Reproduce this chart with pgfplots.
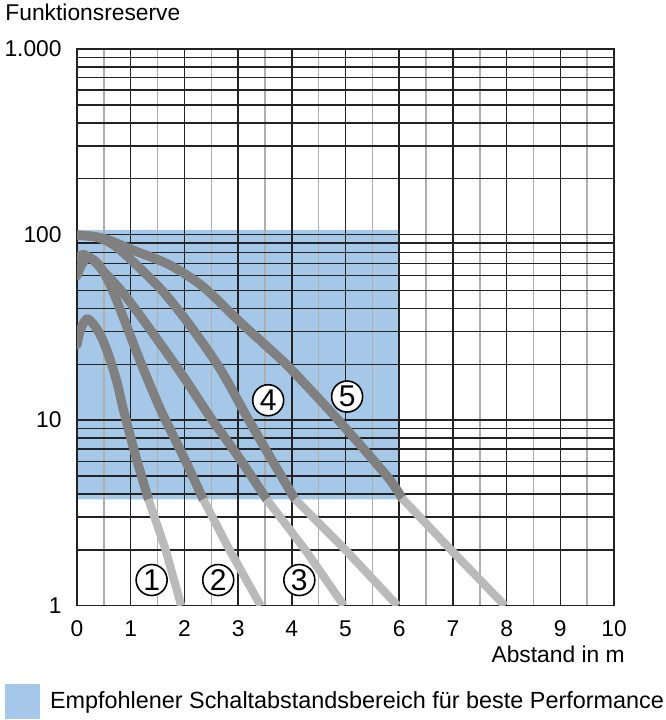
\documentclass[border=0pt]{standalone}
\usepackage{pgfplots}
\pgfplotsset{compat=1.18}
\usepackage{fontspec}
\setmainfont{Liberation Sans}
\definecolor{blueC}{RGB}{166,200,232}
\definecolor{darkC}{RGB}{128,128,128}
\definecolor{lightC}{RGB}{186,186,186}
\definecolor{gridC}{RGB}{35,35,35}
\definecolor{mgridC}{RGB}{175,175,175}
\begin{document}
\begin{tikzpicture}
\begin{axis}[name=ax, set layers, scale only axis, width=268.5pt, height=278.35pt,
 xmin=0, xmax=10, ymin=1, ymax=1000, ymode=log,
 xtick={0,...,10}, xticklabels={0,1,2,3,4,5,6,7,8,9,10},
 ytick={1,10,100,1000}, yticklabels={1,10,100,1.000},
 minor x tick num=1,
 grid=both,
 major grid style={gridC, line width=0.75pt},
 minor grid style={gridC, line width=0.75pt},
 minor x grid style={mgridC, line width=0.75pt},
 axis line style={gridC, line width=0.8pt},
 major tick length=0pt, minor tick length=0pt,
 /pgf/number format/assume math mode=true,
 tick label style={font=\fontsize{11.4}{13}\selectfont},
 xticklabel style={inner sep=0pt, yshift=-7.2pt},
 yticklabel style={inner sep=0pt, xshift=-7.5pt},
 xlabel={Abstand in m}, ylabel={Funktionsreserve},
 every axis x label/.style={at={(axis description cs:1.0205,-0.0724)}, anchor=north east, inner sep=0pt, font=\fontsize{11.4}{13}\selectfont},
 every axis y label/.style={at={(axis description cs:-0.134,1.0808)}, anchor=north west, inner sep=0pt, font=\fontsize{11.4}{13}\selectfont},
 legend style={draw=none, fill=none, inner sep=0pt, outer sep=0pt, at={(axis description cs:-0.134,-0.172)}, anchor=west, font=\fontsize{11.7}{14}\selectfont, nodes={inner sep=0pt}, /tikz/every odd column/.append style={column sep=5pt}},
 legend cell align=left,
]
\addplot[fill=blueC, draw=none, on layer=axis background, area legend,
  legend image code/.code={\fill[blueC] (0pt,-8.75pt) rectangle (17.5pt,8.75pt);}]
  coordinates {(0,3.74) (6,3.74) (6,106) (0,106) (0,3.74)};
\addlegendentry{Empfohlener Schaltabstandsbereich für beste Performance}

% curve 1
\addplot[darkC, line width=4.6pt, smooth, line cap=round, forget plot] coordinates {(0,25.5) (0.07,31) (0.18,35) (0.3,33.1) (0.45,28.2) (0.6,21.9) (0.75,15.8) (0.86,11.5) (1.1,6.3) (1.33,3.75)};
\addplot[lightC, line width=4.1pt, forget plot] coordinates {(1.33,3.75) (1.65,2) (1.94,1)};
% curve 2
\addplot[darkC, line width=4.6pt, smooth, line cap=round, forget plot] coordinates {(0,60) (0.1,70) (0.22,75) (0.4,69) (0.6,55) (0.8,39.8) (1.0,28.2) (1.2,20) (1.4,14.5) (1.6,10.7) (2.0,6.2) (2.35,3.75)};
\addplot[lightC, line width=4.1pt, forget plot] coordinates {(2.35,3.75) (2.8,2.1) (3.42,1)};
% curve 3
\addplot[darkC, line width=4.6pt, smooth, line cap=round, forget plot] coordinates {(0,75) (0.12,78) (0.3,73) (0.5,63) (0.86,48.4) (1.42,29.2) (1.98,17.2) (2.45,10.7) (3.03,6.2) (3.53,3.75)};
\addplot[lightC, line width=4.1pt, forget plot] coordinates {(3.53,3.75) (4.25,2) (4.97,1)};
% curve 4
\addplot[darkC, line width=4.6pt, smooth, line cap=round, forget plot] coordinates {(0,99) (0.35,97) (0.68,88) (1.11,68.5) (1.61,49) (2.10,32.5) (2.66,19) (3.15,10.6) (3.6,6.3) (4.06,3.75)};
\addplot[lightC, line width=4.1pt, forget plot] coordinates {(4.06,3.75) (5,2) (5.97,1)};
% curve 5
\addplot[darkC, line width=4.6pt, smooth, line cap=round, forget plot] coordinates {(0,99.5) (0.49,95.5) (1.11,81) (1.73,68.5) (2.35,52.3) (3.03,33.9) (3.6,24) (3.97,19) (4.8,10.5) (5.77,5.0) (6.05,3.8)};
\addplot[lightC, line width=4.1pt, forget plot] coordinates {(6.05,3.8) (7,1.95) (7.97,1)};

\tikzset{lbl/.style={circle, draw=black, line width=0.8pt, fill=white, inner sep=0pt, minimum size=15.5pt, font=\fontsize{15}{15}\selectfont}}
\node[lbl] at (axis cs:1.39,1.375) {1};
\node[lbl] at (axis cs:2.63,1.375) {2};
\node[lbl] at (axis cs:4.14,1.375) {3};
\node[lbl] at (axis cs:3.56,12.8) {4};
\node[lbl] at (axis cs:5.03,13.4) {5};
\end{axis}
\pgfresetboundingbox
\path ([xshift=-38.5pt,yshift=-57.15pt]ax.south west) rectangle ([xshift=25.5pt,yshift=24.5pt]ax.north east);
\end{tikzpicture}
\end{document}
